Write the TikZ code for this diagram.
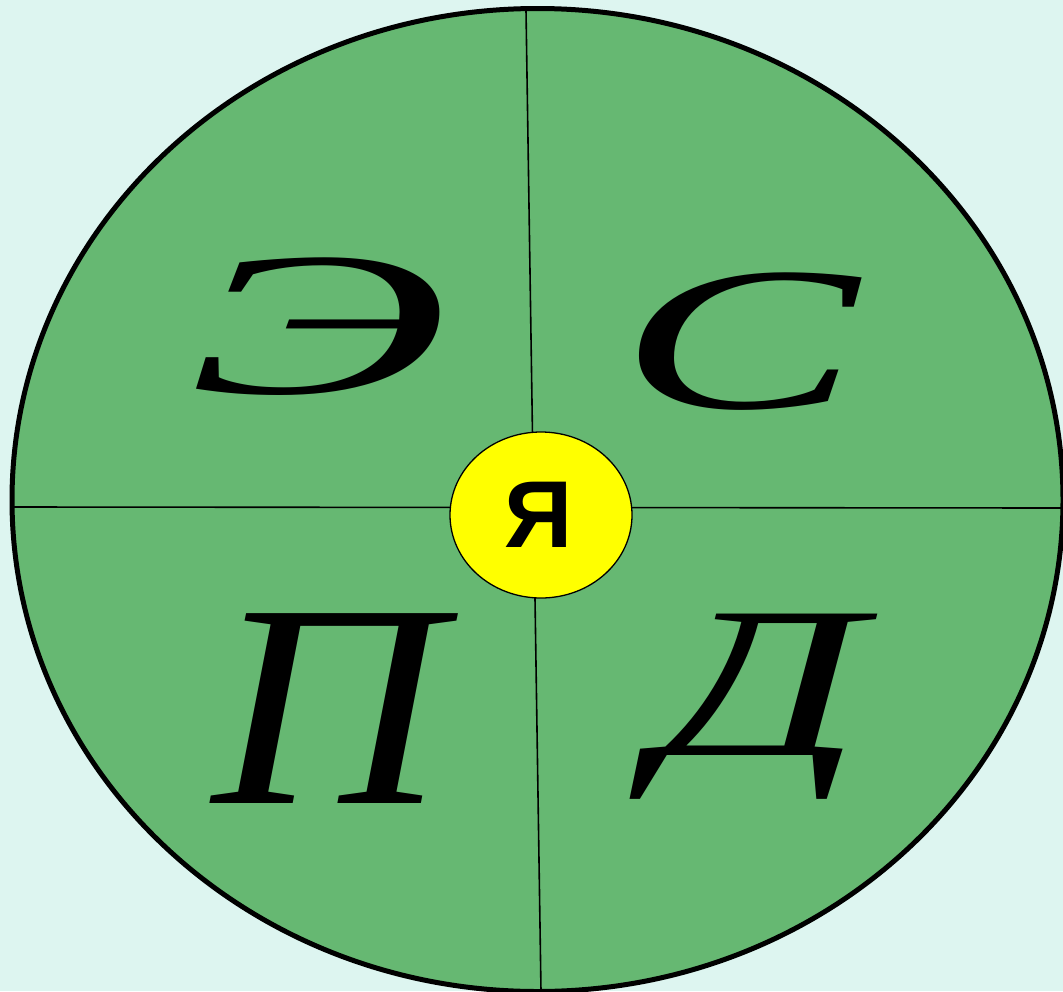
\documentclass[tikz,border=0pt]{standalone}
\usepackage{fontspec}
\usetikzlibrary{shapes.geometric}
\setmainfont{Liberation Serif}
\newfontfamily\sansb{Liberation Sans}
\definecolor{bgc}{RGB}{221,245,240}
\definecolor{greenc}{RGB}{102,184,114}
\definecolor{yellowc}{RGB}{255,255,0}
\tikzset{
  letter/.style={inner sep=0pt, anchor=base, text=black},
  divider/.style={draw=black, line width=1.6pt},
}
\begin{document}
\begin{tikzpicture}[x=1pt,y=-1pt]
\useasboundingbox (0,0) rectangle (1063,991);
\fill[bgc] (0,0) rectangle (1063,991);
\begin{scope}
\clip (0,0) rectangle (1063,991);
\node[ellipse, draw=black, line width=5pt, fill=greenc, minimum width=1051pt, minimum height=983pt, inner sep=0pt] (big) at (537.5,500) {};
\end{scope}
\coordinate (vtop) at (526,10);
\coordinate (vbot) at (541,991);
\coordinate (hleft) at (13,507);
\coordinate (hright) at (1063,508);
\draw[divider] (vtop) -- (vbot);
\draw[divider] (hleft) -- (hright);
\node[ellipse, draw=black, line width=1.3pt, fill=yellowc, minimum width=182pt, minimum height=166pt, inner sep=0pt] (ya) at (541,515) {};
\node[inner sep=0pt] (yatext) at (539,515) {\sansb\bfseries\fontsize{95}{95}\selectfont Я};
\node[letter, xscale=1.95] (e) at (318,393) {\itshape\fontsize{205}{205}\selectfont Э};
\node[letter, xscale=1.75] (s) at (739,408) {\itshape\fontsize{205}{205}\selectfont С};
\node[letter, xscale=1.1] (p) at (328,803) {\itshape\fontsize{290}{290}\selectfont П};
\node[letter, xscale=1.51] (d) at (759,755) {\itshape\fontsize{216}{216}\selectfont Д};
\end{tikzpicture}
\end{document}
